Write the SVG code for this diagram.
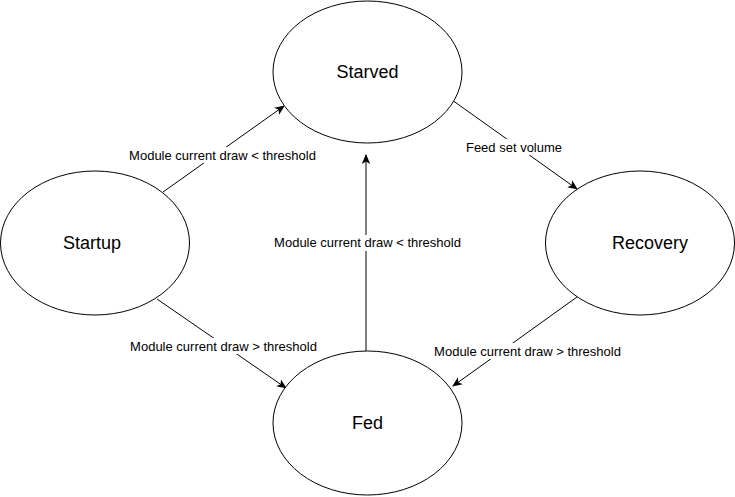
<svg xmlns="http://www.w3.org/2000/svg" width="735" height="497" viewBox="0 0 735 497">
<style>
.node{fill:#fff;stroke:#000;stroke-width:1}
.nl{font-family:"Liberation Sans",Arial,sans-serif;font-size:18px;text-anchor:middle;fill:#000}
.edge{fill:none;stroke:#000;stroke-width:1}
.el{font-family:"Liberation Sans",Arial,sans-serif;font-size:13px;text-anchor:middle;fill:#000}
.bg{fill:#fff}
</style>
<defs>
<marker id="arr" viewBox="0 0 10 10" refX="9" refY="5" markerWidth="10" markerHeight="10" markerUnits="userSpaceOnUse" orient="auto">
<path d="M0,0.8 L10,5 L0,9.2 L2.5,5 Z" fill="#000"/>
</marker>
</defs>
<rect width="735" height="497" fill="#fff"/>
<g id="connectors">
<line class="edge" x1="163" y1="192" x2="284" y2="106" marker-end="url(#arr)"/>
<line class="edge" x1="452" y1="100" x2="577" y2="189" marker-end="url(#arr)"/>
<line class="edge" x1="157" y1="299" x2="286" y2="388" marker-end="url(#arr)"/>
<line class="edge" x1="577" y1="297" x2="453" y2="386" marker-end="url(#arr)"/>
<line class="edge" x1="366" y1="351" x2="366" y2="155" marker-end="url(#arr)"/>
<rect class="bg" x="128" y="147" width="190" height="16"/>
<text class="el" x="222.5" y="159.5">Module current draw &lt; threshold</text>
<rect class="bg" x="465" y="139" width="98" height="16"/>
<text class="el" x="514" y="151.5">Feed set volume</text>
<rect class="bg" x="128" y="338" width="190" height="16"/>
<text class="el" x="223.5" y="350.5">Module current draw &gt; threshold</text>
<rect class="bg" x="432" y="343" width="190" height="16"/>
<text class="el" x="527.5" y="355.5">Module current draw &gt; threshold</text>
<rect class="bg" x="272" y="235" width="190" height="16"/>
<text class="el" x="367.5" y="247">Module current draw &lt; threshold</text>
</g>
<g id="starved">
<ellipse class="node" cx="367.5" cy="72" rx="94.5" ry="71"/>
<text class="nl" x="367.5" y="78">Starved</text>
</g>
<g id="startup">
<ellipse class="node" cx="95" cy="243" rx="94.5" ry="72"/>
<text class="nl" x="92" y="249">Startup</text>
</g>
<g id="recovery">
<ellipse class="node" cx="640" cy="243" rx="94.5" ry="72"/>
<text class="nl" x="650" y="249">Recovery</text>
</g>
<g id="fed">
<ellipse class="node" cx="367.5" cy="423" rx="94.5" ry="72"/>
<text class="nl" x="367.5" y="429">Fed</text>
</g>
</svg>
